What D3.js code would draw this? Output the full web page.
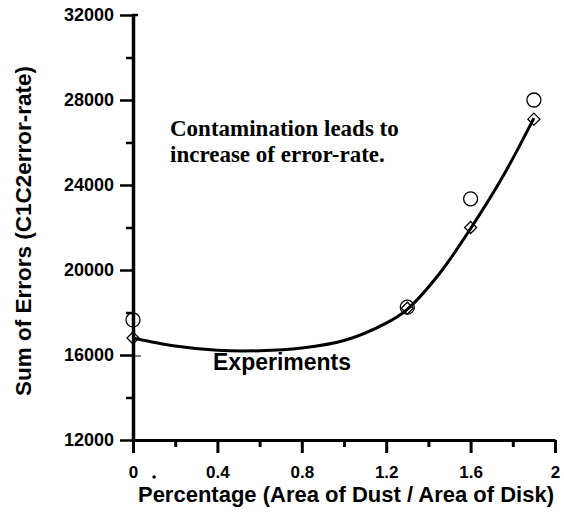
<!DOCTYPE html>
<html>
<head>
<meta charset="utf-8">
<script src="https://cdn.jsdelivr.net/npm/d3@7"></script>
<style>
  body { margin: 0; background: #fff; }
  svg { display: block; }
</style>
</head>
<body>
<svg id="chart" width="564" height="517"></svg>
<script>
var xCircle = [0, 1.3, 1.6, 1.9]
  , yCircle = [17650, 18250, 23350, 28000]
  , xDiamond = [0, 1.3, 1.6, 1.9]
  , yDiamond = [16800, 18200, 22000, 27100]
  // fitted curve, sampled by eye
  , xFit = [0, 0.2, 0.4, 0.6, 0.8, 1.0, 1.2, 1.3, 1.45, 1.6, 1.75, 1.9]
  , yFit = [16800, 16420, 16220, 16200, 16330, 16680, 17500, 18150, 19800, 21950, 24350, 27150]
  , xTicks = [0, 0.4, 0.8, 1.2, 1.6, 2]
  , xTickLabels = ["0", "0.4", "0.8", "1.2", "1.6", "2"]
  , yTicks = [12000, 16000, 20000, 24000, 28000, 32000];

var sans = "'Liberation Sans', Arial, sans-serif"
  , serif = "'Liberation Serif', 'Times New Roman', serif";

var svg = d3.select("#chart")
  , margin = {left: 133, top: 15, right: 9, bottom: 77}
  , width = 564 - margin.left - margin.right
  , height = 517 - margin.top - margin.bottom;

var x = d3.scaleLinear().domain([0, 2]).range([0, width]);
var y = d3.scaleLinear().domain([12000, 32000]).range([height, 0]);

var g = svg.append("g").attr("transform", "translate(" + margin.left + "," + margin.top + ")");

// minor ticks
g.append("g")
    .attr("transform", "translate(0," + height + ")")
    .call(d3.axisBottom(x).tickValues([0.2, 0.6, 1.0, 1.4, 1.8]).tickSize(7).tickFormat(""))
    .call(a => a.select(".domain").remove())
    .call(a => a.selectAll("line").attr("stroke-width", 3));
g.append("g")
    .call(d3.axisLeft(y).tickValues([14000, 18000, 22000, 26000, 30000]).tickSize(7).tickFormat(""))
    .call(a => a.select(".domain").remove())
    .call(a => a.selectAll("line").attr("stroke-width", 2.5));

// major axes
var xAxis = g.append("g")
    .attr("transform", "translate(0," + height + ")")
    .call(d3.axisBottom(x).tickValues(xTicks).tickSize(13).tickPadding(13)
      .tickFormat((d, i) => xTickLabels[i]).tickSizeOuter(0));
xAxis.select(".domain").attr("stroke-width", 3);
xAxis.selectAll("line").attr("stroke-width", 3);
xAxis.attr("font-family", sans).attr("font-size", 17).attr("font-weight", "bold");

var yAxis = g.append("g")
    .call(d3.axisLeft(y).tickValues(yTicks).tickSize(13).tickPadding(6)
      .tickFormat(d3.format("d")).tickSizeOuter(0));
yAxis.select(".domain").attr("stroke-width", 3.5);
yAxis.selectAll("line").attr("stroke-width", 2.5);
yAxis.attr("font-family", sans).attr("font-size", 18).attr("font-weight", "bold");

// small hook at top of y axis, and the 16000 tick poking through
g.append("line")
    .attr("x1", -1).attr("x2", 5)
    .attr("y1", y(32000)).attr("y2", y(32000))
    .attr("stroke", "#000").attr("stroke-width", 2.5);
g.append("line")
    .attr("x1", 0).attr("x2", 8)
    .attr("y1", y(16000) + 1).attr("y2", y(16000) + 1)
    .attr("stroke", "#000").attr("stroke-width", 1);

// stray dot next to the 0 label
g.append("circle")
    .attr("cx", x(0.1)).attr("cy", height + 37)
    .attr("r", 1.8)
    .attr("fill", "#000");

// fitted line
var fit = xFit.map((d, i) => [d, yFit[i]]);
g.append("path")
    .datum(fit)
    .attr("fill", "none")
    .attr("stroke", "#000")
    .attr("stroke-width", 3)
    .attr("d", d3.line().x(d => x(d[0])).y(d => y(d[1])).curve(d3.curveCatmullRom));

// circles
g.append("g").selectAll("circle")
    .data(xCircle)
  .enter().append("circle")
    .attr("cx", d => x(d))
    .attr("cy", (d, i) => y(yCircle[i]))
    .attr("r", 7)
    .attr("fill", "none")
    .attr("stroke", "#000")
    .attr("stroke-width", 1.3);

// diamonds
g.append("g").selectAll("path")
    .data(xDiamond)
  .enter().append("path")
    .attr("transform", (d, i) => "translate(" + x(d) + "," + y(yDiamond[i]) + ")")
    .attr("d", "M0,-6L6,0L0,6L-6,0Z")
    .attr("fill", "none")
    .attr("stroke", "#000")
    .attr("stroke-width", 1.3);

// annotations
var note = g.append("text")
    .style("font-family", serif)
    .style("font-weight", "bold").style("font-size", "23px");
note.append("tspan").attr("x", 37).attr("y", 121).text("Contamination leads to");
note.append("tspan").attr("x", 37).attr("y", 147).text("increase of error-rate.");

g.append("text")
    .attr("x", 80).attr("y", 355)
    .style("font-family", sans)
    .style("font-weight", "bold").style("font-size", "23px")
    .text("Experiments");

// axis titles
svg.append("text")
    .attr("x", margin.left + width / 2 + 2).attr("y", 502)
    .attr("text-anchor", "middle")
    .style("font-family", sans)
    .style("font-weight", "bold").style("font-size", "22px")
    .text("Percentage (Area of Dust / Area of Disk)");

svg.append("text")
    .attr("transform", "translate(31,231) rotate(-90)")
    .attr("text-anchor", "middle")
    .style("font-family", sans)
    .style("font-weight", "bold").style("font-size", "22.5px")
    .text("Sum of Errors (C1C2error-rate)");
</script>
</body>
</html>
